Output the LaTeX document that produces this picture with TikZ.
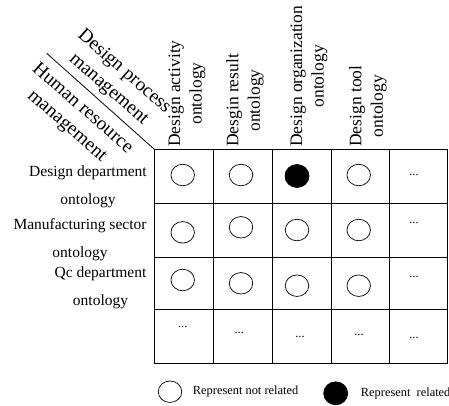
\documentclass[tikz,border=0pt]{standalone}
\usepackage{fontspec}
\setmainfont{Liberation Serif}
\usetikzlibrary{shapes.geometric}
\begin{document}
\begin{tikzpicture}[x=1pt,y=-1pt,
  rel/.style={ellipse, draw, line width=0.7pt, minimum width=23.5pt, minimum height=21.5pt, inner sep=0pt},
  relfill/.style={rel, fill=black, minimum width=24pt, minimum height=23pt},
  colhead/.style={rotate=90, anchor=west, align=center, inner sep=0pt, font=\fontsize{17.5}{21.5}\selectfont},
  rowhead/.style={align=center, inner sep=0pt, font=\fontsize{15.5}{28}\selectfont},
  diaghead/.style={rotate=-41.2, align=center, inner sep=0pt, font=\fontsize{19.3}{23.5}\selectfont},
  more/.style={anchor=base, inner sep=0pt, font=\fontsize{12.5}{12.5}\selectfont},
  legtext/.style={anchor=west, inner sep=0pt, font=\fontsize{12.4}{14}\selectfont},
  gridline/.style={line width=0.8pt}]
\useasboundingbox (0,0) rectangle (449,405);

% matrix frame
\coordinate (corner) at (154,149);
\coordinate (diagstart) at (46.7,53.3);
\draw[gridline] (corner) rectangle (447,363);
\foreach \x in {213,272,331,389} \draw[gridline] (\x,149) -- (\x,363);
\foreach \y in {203,257,309} \draw[gridline] (154,\y) -- (447,\y);

% diagonal split of the corner cell
\draw[line width=0.8pt] (diagstart) -- (corner);
\node[diaghead] (dpm) at (116.3,80.5) {Design process\\management};
\node[diaghead] (hrm) at (74.5,117.5) {Human resource\\management};

% column headers
\node[colhead] (h1) at (187,147) {Design activity\\ontology};
\node[colhead] (h2) at (245,147) {Desgin result\\ontology};
\node[colhead] (h3) at (309,147) {Design organization\\ontology};
\node[colhead] (h4) at (368,147) {Design tool\\ontology};

% row headers
\node[rowhead] (r1) at (88,186.5) {Design department\\ontology};
\node[rowhead] (r2) at (80,239.5) {Manufacturing sector\\ontology};
\node[rowhead] (r3) at (100.5,288) {Qc department\\ontology};

% relation marks
\node[rel] (m11) at (182.7,175) {};
\node[rel] (m12) at (241,175) {};
\node[relfill] (m13) at (297,176) {};
\node[rel] (m14) at (358.7,175) {};
\node[rel] (m21) at (182.7,232.3) {};
\node[rel] (m22) at (241,227.3) {};
\node[rel] (m23) at (297,230) {};
\node[rel] (m24) at (358.7,230) {};
\node[rel] (m31) at (182.7,280) {};
\node[rel] (m32) at (241,283.3) {};
\node[rel] (m33) at (297,285.7) {};
\node[rel] (m34) at (358.7,285.7) {};

% ellipsis cells
\node[more] (e15) at (414,175) {...};
\node[more] (e25) at (414,223) {...};
\node[more] (e35) at (414,277.7) {...};
\node[more] (e41) at (182.7,327.7) {...};
\node[more] (e42) at (239.3,333.7) {...};
\node[more] (e43) at (300,337.5) {...};
\node[more] (e44) at (359,335.3) {...};
\node[more] (e45) at (414,338.3) {...};

% legend
\node[rel] (lg1) at (170,391.7) {};
\node[legtext] (lt1) at (192.7,391.7) {Represent not related};
\node[relfill] (lg2) at (335.7,393.3) {};
\node[legtext] (lt2) at (360.7,393.3) {Represent\ \ related};
\end{tikzpicture}
\end{document}
